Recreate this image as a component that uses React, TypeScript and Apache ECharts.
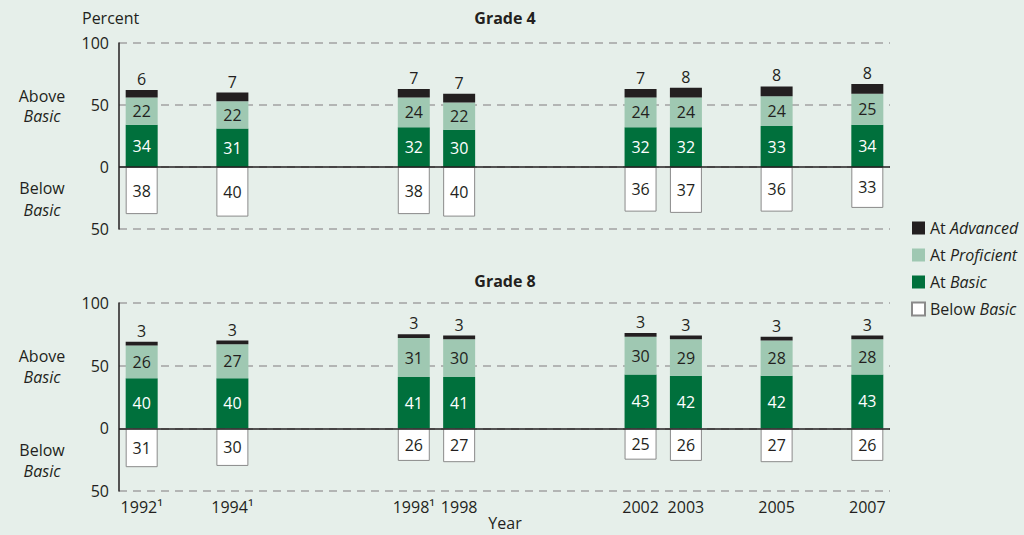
import React, { useEffect, useRef } from 'react';
import * as echarts from 'echarts';

const yearLabels = ['1992¹', '1994¹', '1998¹', '1998', '2002', '2003', '2005', '2007'];
const yearSlots = [0, 2, 6, 7, 11, 12, 14, 16];
const slotCount = 17;

const g4Below = [38, 40, 38, 40, 36, 37, 36, 33];
const g4Basic = [34, 31, 32, 30, 32, 32, 33, 34];
const g4Proficient = [22, 22, 24, 22, 24, 24, 24, 25];
const g4Advanced = [6, 7, 7, 7, 7, 8, 8, 8];

const g8Below = [31, 30, 26, 27, 25, 26, 27, 26];
const g8Basic = [40, 40, 41, 41, 43, 42, 42, 43];
const g8Proficient = [26, 27, 31, 30, 30, 29, 28, 28];
const g8Advanced = [3, 3, 3, 3, 3, 3, 3, 3];

const yTicks = { min: -50, max: 100, interval: 50 };

const FONT = '"Open Sans", "Noto Sans", sans-serif';
const FS = 16;
const DARK = '#231f20';
const BG = '#e6efea';
const GREEN = '#00703c';
const LIGHT = '#9fc8b2';

const categories: string[] = Array.from({ length: slotCount }, (_, i) => {
  const k = yearSlots.indexOf(i);
  return k >= 0 ? yearLabels[k] : '';
});

function slotData(vals: number[], sign = 1): (number | null)[] {
  const out: (number | null)[] = Array(slotCount).fill(null);
  vals.forEach((v, i) => {
    out[yearSlots[i]] = sign * v;
  });
  return out;
}

function gradeSeries(gi: number, below: number[], basic: number[], prof: number[], adv: number[]) {
  const common = {
    type: 'bar',
    xAxisIndex: gi,
    yAxisIndex: gi,
    stack: 'g' + gi,
    barWidth: 32,
  };
  const lbl = { show: true, fontSize: FS, fontFamily: FONT };
  return [
    {
      ...common,
      name: 'Below Basic',
      data: slotData(below, -1),
      itemStyle: { color: '#ffffff', borderColor: '#8a8a8a', borderWidth: 1 },
      label: { ...lbl, position: 'inside', color: DARK, formatter: (p: any) => String(Math.abs(p.value)) },
      markLine: {
        silent: true,
        symbol: ['none', 'none'],
        data: [{ yAxis: 0 }],
        lineStyle: { color: DARK, width: 1.5, type: 'solid' },
        label: { show: false },
        z: 10,
      },
    },
    {
      ...common,
      name: 'At Basic',
      data: slotData(basic),
      itemStyle: { color: GREEN },
      label: { ...lbl, position: 'inside', color: '#ffffff' },
    },
    {
      ...common,
      name: 'At Proficient',
      data: slotData(prof),
      itemStyle: { color: LIGHT },
      label: { ...lbl, position: 'inside', color: DARK },
    },
    {
      ...common,
      name: 'At Advanced',
      data: slotData(adv),
      itemStyle: { color: DARK },
      label: { ...lbl, position: 'top', distance: 3, color: DARK },
    },
  ];
}

function textEl(text: string, x: number, y: number, opts: any = {}) {
  return {
    type: 'text',
    x,
    y,
    style: {
      text,
      fill: DARK,
      font: `${opts.weight || 'normal'} ${FS}px ${FONT}`,
      align: opts.align || 'left',
      verticalAlign: 'middle',
      ...(opts.rich ? { rich: opts.rich } : {}),
    },
  };
}

const italicRich = { i: { fontStyle: 'italic', fontSize: FS, fontFamily: FONT, fill: DARK } };

export default function App() {
  const ref = useRef<HTMLDivElement>(null);
  useEffect(() => {
    if (!ref.current) return;
    const chart = echarts.init(ref.current, undefined, { renderer: 'svg' });
    const xAxisBase = {
      type: 'category',
      data: categories,
      boundaryGap: true,
      axisLine: { show: false },
      axisTick: { show: false },
      splitLine: { show: false },
    };
    const yAxisBase = {
      type: 'value',
      ...yTicks,
      axisLine: { show: true, onZero: false, lineStyle: { color: DARK, width: 1.5 } },
      axisTick: { show: false },
      axisLabel: {
        color: DARK,
        fontSize: FS,
        fontFamily: FONT,
        margin: 10,
        formatter: (v: number) => String(Math.abs(v)),
      },
      splitLine: { show: true, lineStyle: { color: '#a3a3a3', width: 1.5, type: [8, 6] } },
    };
    chart.setOption({
      animation: false,
      backgroundColor: BG,
      textStyle: { fontFamily: FONT },
      grid: [
        { left: 119, right: 134, top: 43, height: 186 },
        { left: 119, right: 134, top: 303, height: 188 },
      ],
      xAxis: [
        { ...xAxisBase, gridIndex: 0, axisLabel: { show: false } },
        {
          ...xAxisBase,
          gridIndex: 1,
          axisLabel: {
            show: true,
            interval: 0,
            color: DARK,
            fontSize: FS,
            fontFamily: FONT,
            margin: 8,
          },
        },
      ],
      yAxis: [
        { ...yAxisBase, gridIndex: 0 },
        { ...yAxisBase, gridIndex: 1 },
      ],
      legend: {
        orient: 'vertical',
        left: 906,
        top: 215,
        itemWidth: 13,
        itemHeight: 13,
        itemGap: 11,
        icon: 'rect',
        data: ['At Advanced', 'At Proficient', 'At Basic', 'Below Basic'],
        formatter: (name: string) => name.replace(/(Advanced|Proficient|Basic)$/, '{i|$1}'),
        textStyle: {
          color: DARK,
          fontSize: FS,
          fontFamily: FONT,
          rich: { i: { fontStyle: 'italic', fontSize: FS, fontFamily: FONT, color: DARK } },
        },
      },
      graphic: [
        textEl('Percent', 82, 18),
        textEl('Grade 4', 505, 18, { align: 'center', weight: 'bold' }),
        textEl('Grade 8', 505, 281, { align: 'center', weight: 'bold' }),
        textEl('Year', 505, 523, { align: 'center' }),
        textEl('Above', 42, 96, { align: 'center' }),
        textEl('{i|Basic}', 42, 116, { align: 'center', rich: italicRich }),
        textEl('Below', 42, 188, { align: 'center' }),
        textEl('{i|Basic}', 42, 210, { align: 'center', rich: italicRich }),
        textEl('Above', 42, 356, { align: 'center' }),
        textEl('{i|Basic}', 42, 377, { align: 'center', rich: italicRich }),
        textEl('Below', 42, 450, { align: 'center' }),
        textEl('{i|Basic}', 42, 471, { align: 'center', rich: italicRich }),
      ],
      series: [
        ...gradeSeries(0, g4Below, g4Basic, g4Proficient, g4Advanced),
        ...gradeSeries(1, g8Below, g8Basic, g8Proficient, g8Advanced),
      ],
    });
    return () => chart.dispose();
  }, []);
  return (
    <div
      ref={ref}
      style={{ position: 'fixed', left: 0, top: 0, width: 1024, height: 535, background: BG }}
    />
  );
}
